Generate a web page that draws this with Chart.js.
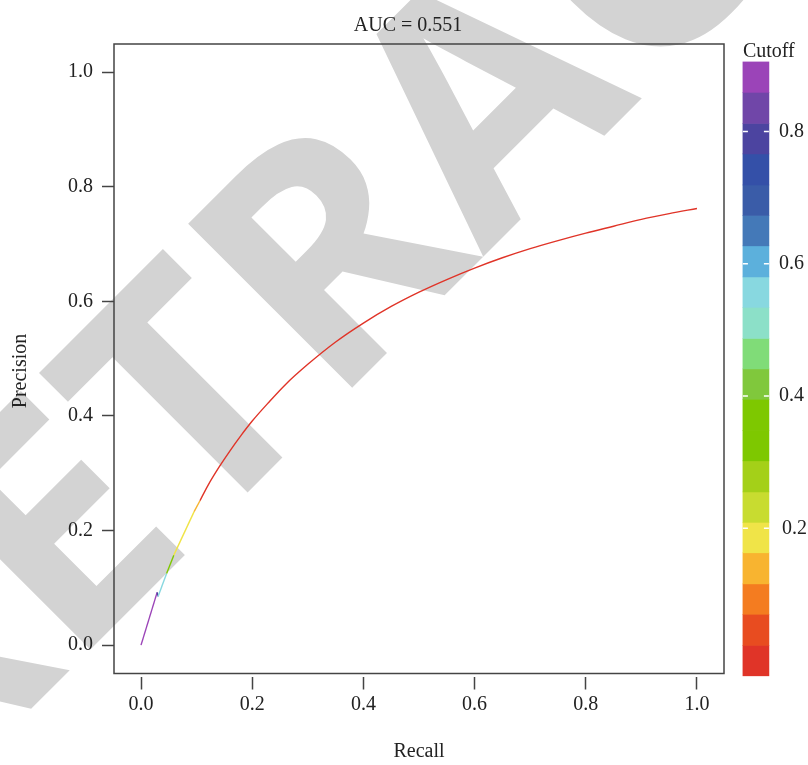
<!DOCTYPE html>
<html>
<head>
<meta charset="utf-8">
<script src="https://cdn.jsdelivr.net/npm/chart.js@4.4.0/dist/chart.umd.min.js"></script>
<style>
    html, body { margin: 0; padding: 0; background: #fff; }
    #wrap { width: 808px; height: 765px; position: relative; }
</style>
</head>
<body>
<div id="wrap"><canvas id="pr-chart"></canvas></div>
<script>
'use strict';

// precision / recall points, with the cutoff at each point
var recall = [0, 0.029, 0.0307, 0.046, 0.059, 0.0955, 0.106, 0.12, 0.14, 0.16, 0.18, 0.2,
    0.23, 0.26, 0.3, 0.35, 0.4, 0.45, 0.5, 0.55, 0.6, 0.65, 0.7, 0.75, 0.8, 0.85, 0.9, 0.95, 1.0];
var precision = [0, 0.092, 0.085, 0.125, 0.157, 0.233, 0.252, 0.278, 0.31, 0.339, 0.366, 0.391,
    0.424, 0.455, 0.49, 0.529, 0.562, 0.591, 0.616, 0.638, 0.658, 0.676, 0.692, 0.706, 0.719, 0.731, 0.743, 0.753, 0.762];
var cutoff = [0.88, 0.79, 0.56, 0.37, 0.19, 0.13, 0.0, 0.0, 0.0, 0.0, 0.0, 0.0,
    0.0, 0.0, 0.0, 0.0, 0.0, 0.0, 0.0, 0.0, 0.0, 0.0, 0.0, 0.0, 0.0, 0.0, 0.0, 0.0, 0.0];

// colour key: bin edges (bottom to top) and their colours
var binEdges = [-0.023, 0.023, 0.070, 0.116, 0.163, 0.209, 0.255, 0.302, 0.348, 0.395, 0.441,
    0.487, 0.534, 0.580, 0.627, 0.673, 0.719, 0.766, 0.812, 0.859, 0.905];
var binColors = ['#e03428', '#e84c20', '#f47c20', '#f8b430', '#f0e448', '#c8dc30', '#a4d018',
    '#7ec800', '#7ec800', '#80c83c', '#80dc78', '#8ce0c8', '#88d8e0', '#5cb0dc', '#4479b8',
    '#3a5ca8', '#3450a8', '#4c44a0', '#7046a8', '#9b44b8'];
var cutoffTicks = [0.2, 0.4, 0.6, 0.8];

var titleText = 'AUC = 0.551';
var xTitle = 'Recall';
var yTitle = 'Precision';
var keyTitle = 'Cutoff';
var stampText = 'RETRACTED';

var serif = '"Liberation Serif", "Times New Roman", serif';
var keyX = 1.106;
var split = 6; // the short multi-coloured start is drawn straight, the long red tail smooth

function binIndex(c) {
    for (var i = 0; i < binColors.length; i++) {
        if (c < binEdges[i + 1]) return i;
    }
    return binColors.length - 1;
}

var points = recall.map(function (r, i) { return {x: r, y: precision[i]}; });
var keyBars = binColors.map(function (c, i) { return {x: keyX, y: [binEdges[i], binEdges[i + 1]]}; });

function curveSet(from, to, mode) {
    return {
        type: 'line',
        data: points.slice(from, to),
        borderWidth: 1.4,
        pointRadius: 0,
        fill: false,
        tension: 0,
        cubicInterpolationMode: mode,
        borderColor: binColors[0],
        segment: {
            borderColor: function (ctx) { return binColors[binIndex(cutoff[from + ctx.p0DataIndex])]; }
        }
    };
}

var stampPlugin = {
    id: 'stamp',
    beforeDraw: function (chart) {
        var ctx = chart.ctx;
        ctx.save();
        ctx.font = 'bold 325px "Open Sans", sans-serif';
        var lead = ctx.measureText('RE').width + ctx.measureText('T').width / 2;
        ctx.translate(265, 475);
        ctx.rotate(-Math.PI / 4);
        ctx.fillStyle = '#d3d3d3';
        ctx.textBaseline = 'alphabetic';
        ctx.fillText(stampText, -lead, 0);
        ctx.restore();
    }
};

var decoPlugin = {
    id: 'deco',
    afterDraw: function (chart) {
        var ctx = chart.ctx;
        var a = chart.chartArea;
        var yc = chart.scales.yc;
        ctx.save();

        // plot box
        ctx.strokeStyle = '#444';
        ctx.lineWidth = 1.5;
        ctx.strokeRect(a.left, a.top, a.right - a.left, a.bottom - a.top);

        // key ticks and labels
        var bx0 = chart.scales.x.getPixelForValue(keyX) - 13;
        ctx.strokeStyle = '#fff';
        ctx.fillStyle = '#222';
        ctx.font = '20px ' + serif;
        ctx.textAlign = 'left';
        ctx.textBaseline = 'middle';
        cutoffTicks.forEach(function (t) {
            var py = yc.getPixelForValue(t);
            ctx.beginPath();
            ctx.moveTo(bx0, py); ctx.lineTo(bx0 + 5, py);
            ctx.moveTo(bx0 + 21, py); ctx.lineTo(bx0 + 26, py);
            ctx.stroke();
            ctx.fillText(t.toFixed(1), bx0 + (t < 0.3 ? 39 : 36), py);
        });

        ctx.textBaseline = 'alphabetic';
        ctx.fillText(keyTitle, bx0, 57);

        ctx.textAlign = 'center';
        ctx.fillText(titleText, 408, 31);
        ctx.fillText(xTitle, (a.left + a.right) / 2, 757);

        ctx.translate(21, 371);
        ctx.rotate(-Math.PI / 2);
        ctx.textBaseline = 'middle';
        ctx.fillText(yTitle, 0, 0);
        ctx.restore();
    }
};

var tickFont = {family: serif, size: 20};

new Chart(document.getElementById('pr-chart'), {
    type: 'line',
    data: {
        datasets: [
            curveSet(0, split + 1, 'default'),
            curveSet(split, recall.length, 'monotone'),
            {
                type: 'bar',
                data: keyBars,
                yAxisID: 'yc',
                backgroundColor: binColors,
                borderWidth: 0,
                barThickness: 26,
                grouped: false,
                clip: false
            }
        ]
    },
    options: {
        responsive: true,
        maintainAspectRatio: false,
        animation: false,
        layout: {padding: {left: 0, top: 44, right: 84, bottom: 0}},
        plugins: {
            legend: {display: false},
            tooltip: {enabled: false},
            title: {display: false}
        },
        scales: {
            x: {
                type: 'linear',
                offset: false,
                min: -0.0486,
                max: 1.0486,
                border: {display: false},
                grid: {offset: false, drawOnChartArea: false, drawTicks: true, tickLength: 16, tickColor: '#444',
                    tickWidth: 1.5, tickBorderDash: [0, 3, 13, 40]},
                ticks: {stepSize: 0.2, includeBounds: false, color: '#222', font: tickFont, padding: 3,
                    maxRotation: 0, callback: function (v) { return v.toFixed(1); }},
                afterFit: function (s) { s.height = 91.5; }
            },
            y: {
                type: 'linear',
                min: -0.0495,
                max: 1.049,
                border: {display: false},
                grid: {drawOnChartArea: false, drawTicks: true, tickLength: 12, tickColor: '#444', tickWidth: 1.5},
                ticks: {stepSize: 0.2, includeBounds: false, color: '#222', font: tickFont, padding: 9,
                    callback: function (v) { return v.toFixed(1); }},
                afterFit: function (s) { s.width = 114; }
            },
            yc: {
                type: 'linear',
                position: 'right',
                display: false,
                min: -0.0195,
                max: 0.9321,
                ticks: {display: false},
                afterFit: function (s) { s.width = 0; }
            }
        }
    },
    plugins: [stampPlugin, decoPlugin]
});
</script>
</body>
</html>
